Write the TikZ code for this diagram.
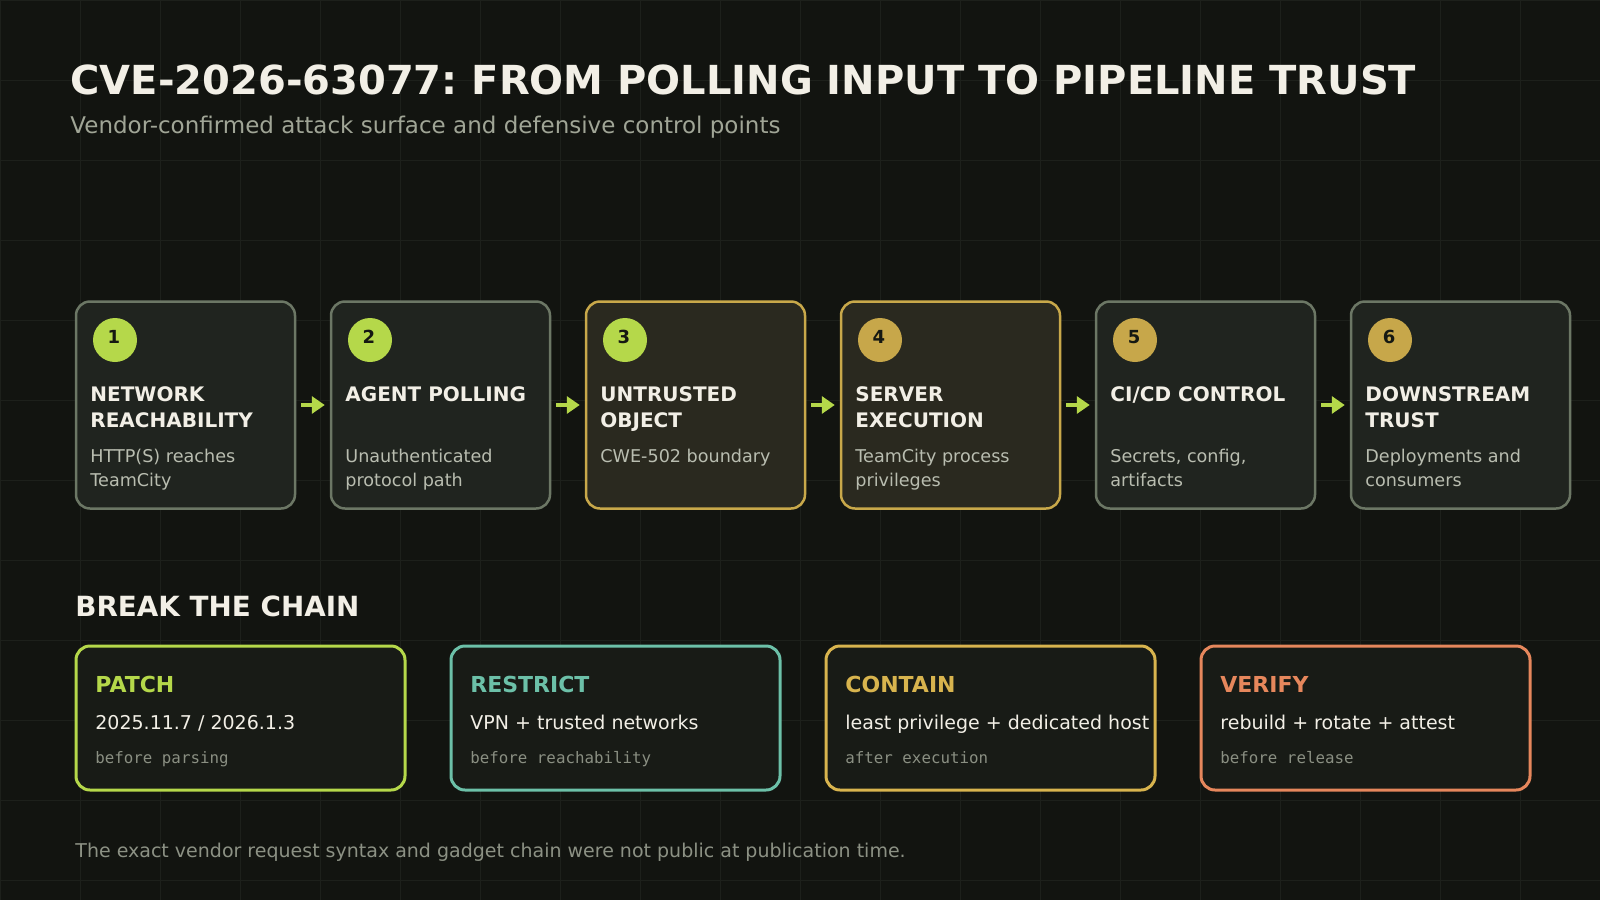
\documentclass[tikz,border=0pt]{standalone}
\usepackage{fontspec}
\setmainfont{DejaVu Sans}
\setmonofont{DejaVu Sans Mono}
\usetikzlibrary{arrows.meta}
\frenchspacing
\definecolor{bg}{HTML}{121410}
\definecolor{gridc}{HTML}{1D201B}
\definecolor{cardfill}{HTML}{20241F}
\definecolor{cardline}{HTML}{6C7765}
\definecolor{hotfill}{HTML}{2A291F}
\definecolor{hotline}{HTML}{C8A84A}
\definecolor{lime}{HTML}{B5D84A}
\definecolor{goldc}{HTML}{C7A74A}
\definecolor{boxfill}{HTML}{181B16}
\definecolor{teal}{HTML}{6CC0A8}
\definecolor{containc}{HTML}{D8B44E}
\definecolor{verifyc}{HTML}{E6875C}
\definecolor{whitish}{HTML}{F2EFE6}
\definecolor{subc}{HTML}{A0A596}
\definecolor{descc}{HTML}{B9BDB0}
\definecolor{monoc}{HTML}{8A8F82}
\definecolor{footc}{HTML}{8C9184}
\definecolor{numc}{HTML}{151812}
\tikzset{
  gridline/.style={draw=gridc, line width=0.5pt},
  cardn/.style={draw=cardline, fill=cardfill},
  cardh/.style={draw=hotline, fill=hotfill},
  cardbox/.style={rectangle, rounded corners=7pt, line width=1.25pt, minimum width=109.5pt, minimum height=103.5pt, inner sep=0pt},
  numdot/.style={circle, minimum size=22pt, inner sep=0pt, font=\fontsize{9pt}{10pt}\bfseries, text=numc},
  ttl/.style={anchor=base west, inner sep=0pt, text=whitish, font=\fontsize{10pt}{12pt}\bfseries},
  dsc/.style={anchor=base west, inner sep=0pt, text=descc, font=\fontsize{8.8pt}{10pt}\selectfont},
  arr/.style={draw=lime, line width=2pt, -{Triangle[length=6.5pt, width=8.5pt]}},
  ctrlbox/.style={rectangle, rounded corners=7pt, line width=1.5pt, fill=boxfill, minimum width=164.5pt, minimum height=72pt, inner sep=0pt},
  btitle/.style={anchor=base west, inner sep=0pt, font=\fontsize{11pt}{13pt}\bfseries},
  bline/.style={anchor=base west, inner sep=0pt, text=whitish, font=\fontsize{9.5pt}{11pt}\selectfont},
  bmono/.style={anchor=base west, inner sep=0pt, text=monoc, font=\fontsize{7.9pt}{9pt}\ttfamily},
}
\begin{document}
\begin{tikzpicture}[x=0.5pt,y=-0.5pt]
\useasboundingbox (0,0) rectangle (1600,900);
\fill[bg] (0,0) rectangle (1600,900);
\foreach \g in {0,80,...,1600} \draw[gridline] (\g,0) -- (\g,900);
\foreach \g in {0,80,...,880} \draw[gridline] (0,\g) -- (1600,\g);

\node[anchor=base west, inner sep=0pt, text=whitish, font=\fontsize{20pt}{24pt}\bfseries] (title) at (70,94) {CVE-2026-63077: FROM POLLING INPUT TO PIPELINE TRUST};
\node[anchor=base west, inner sep=0pt, text=subc, font=\fontsize{11.5pt}{13pt}\selectfont] (subtitle) at (70,133) {Vendor-confirmed attack surface and defensive control points};

\foreach \i/\ta/\tb/\da/\db/\kind/\dotc in {
  1/NETWORK/REACHABILITY/HTTP(S) reaches/TeamCity/cardn/lime,
  2/AGENT POLLING//Unauthenticated/protocol path/cardn/lime,
  3/UNTRUSTED/OBJECT/CWE-502 boundary//cardh/lime,
  4/SERVER/EXECUTION/TeamCity process/privileges/cardh/goldc,
  5/{CI/CD CONTROL}//{Secrets, config,}/artifacts/cardn/goldc,
  6/DOWNSTREAM/TRUST/Deployments and/consumers/cardn/goldc}
{
  \pgfmathsetmacro{\x}{76+255*(\i-1)}
  \node[cardbox, \kind] (card\i) at (\x+109.5,405) {};
  \node[numdot, fill=\dotc] (num\i) at (\x+39,340) {};
  \node[inner sep=0pt, text=numc, font=\fontsize{9pt}{10pt}\bfseries] (numt\i) at (\x+38,337) {\i};
  \node[ttl] (ta\i) at (\x+14,401) {\ta};
  \node[ttl] (tb\i) at (\x+14,427) {\tb};
  \node[dsc] (da\i) at (\x+14,462) {\da};
  \node[dsc] (db\i) at (\x+14,486) {\db};
}
\foreach \i [evaluate=\i as \j using int(\i+1)] in {1,...,5}
  \draw[arr] ([xshift=2.5pt]card\i.east) -- ([xshift=-2.5pt]card\j.west);

\node[anchor=base west, inner sep=0pt, text=whitish, font=\fontsize{13.9pt}{16pt}\bfseries] (breakhead) at (75,616) {BREAK THE CHAIN};

\foreach \i/\nm/\col/\lb/\lc in {
  1/PATCH/lime/{2025.11.7 / 2026.1.3}/before parsing,
  2/RESTRICT/teal/VPN + trusted networks/before reachability,
  3/CONTAIN/containc/least privilege + dedicated host/after execution,
  4/VERIFY/verifyc/rebuild + rotate + attest/before release}
{
  \pgfmathsetmacro{\x}{76+375*(\i-1)}
  \node[ctrlbox, draw=\col] (box\i) at (\x+164.5,718) {};
  \node[btitle, text=\col] (bt\i) at (\x+19,692) {\nm};
  \node[bline] (bl\i) at (\x+19,729) {\lb};
  \node[bmono] (bm\i) at (\x+19,763) {\lc};
}

\node[anchor=base west, inner sep=0pt, text=footc, font=\fontsize{9.5pt}{11pt}\selectfont] (footer) at (75,857) {The exact vendor request syntax and gadget chain were not public at publication time.};
\end{tikzpicture}
\end{document}
